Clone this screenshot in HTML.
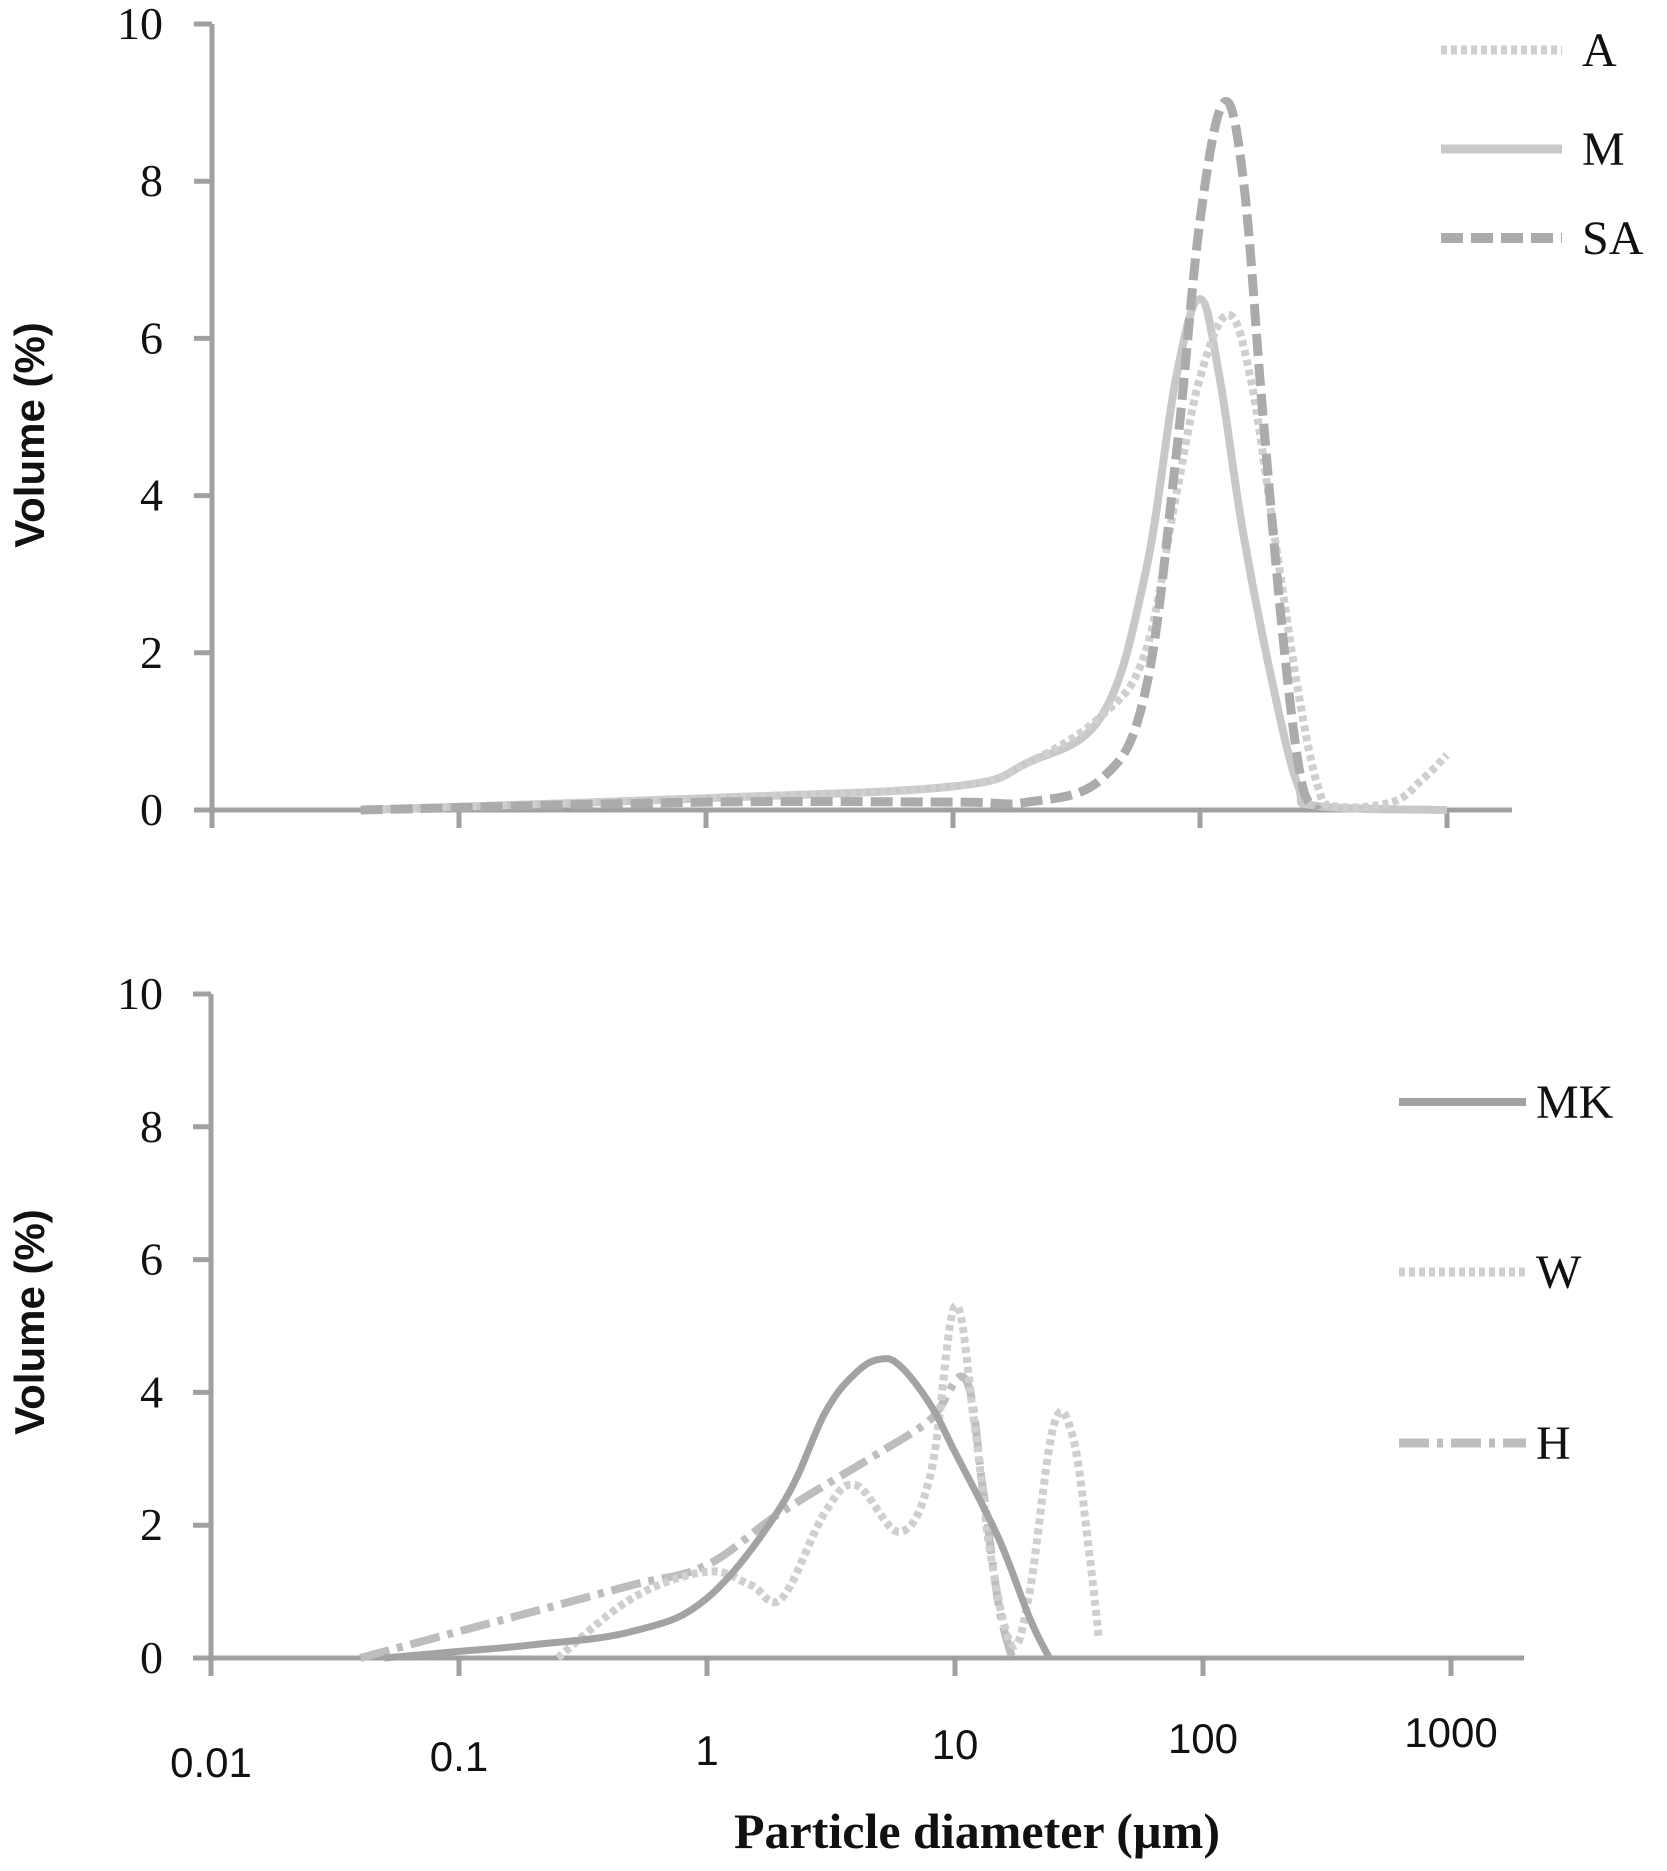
<!DOCTYPE html>
<html><head><meta charset="utf-8"><style>
html,body{margin:0;padding:0;background:#fff;}
svg{display:block;}
</style></head><body>
<svg id="chart" width="1667" height="1871" viewBox="0 0 1667 1871" xmlns="http://www.w3.org/2000/svg">
<g id="g"></g>
</svg>
<script>
// Top panel data
const topA_x = [0.04,1,10,20,40,60,80,100,130,160,200,250,300,350,600,800,1000];
const topA_y = [0,0.15,0.3,0.6,1.2,2,4,5.5,6.3,5.5,3.5,1.5,0.3,0.05,0.1,0.4,0.7];
const topM_x = [0.04,1,10,20,40,60,80,100,120,150,200,250,300,1000];
const topM_y = [0,0.15,0.3,0.6,1.2,3,5.5,6.5,5.5,3.5,1.5,0.3,0.05,0];
const topSA_x = [0.04,1,10,20,40,60,80,100,125,150,180,220,260,300];
const topSA_y = [0,0.1,0.1,0.1,0.4,1.5,4.5,7.5,9,8,5,2,0.3,0];
// Bottom panel data
const botMK_x = [0.05,0.1,0.2,0.5,1,2,3,4,5,6,8,10,15,20,24];
const botMK_y = [0,0.1,0.2,0.4,0.9,2.3,3.7,4.3,4.5,4.4,3.8,3.1,1.8,0.6,0];
const botW_x = [0.25,0.5,1,1.5,2,3,4,6,8,10,12,14,17,20,25,30,35,38];
const botW_y = [0,0.9,1.3,1.1,0.9,2.2,2.6,1.9,2.8,5.3,3.5,1.5,0.2,1,3.5,3.3,1.5,0.3];
const botH_x = [0.04,0.1,0.2,0.5,1,2,5,8,11,13,15,17];
const botH_y = [0,0.4,0.7,1.1,1.4,2.2,3.1,3.6,4.2,2.5,0.8,0];
const yTicks = [0,2,4,6,8,10];
const xTicks = [0.01,0.1,1,10,100,1000];
const xTickLabels = ["0.01","0.1","1","10","100","1000"];

const NS="http://www.w3.org/2000/svg";
const g=document.getElementById('g');
function el(t,a,txt){const e=document.createElementNS(NS,t);for(const k in a)e.setAttribute(k,a[k]);if(txt!==undefined)e.textContent=txt;g.appendChild(e);return e;}

const panels=[
 {name:'top',x0:212,x1:1447,xEnd:1512,y0:810,y10:24},
 {name:'bottom',x0:211,x1:1451,xEnd:1524,y0:1658,y10:994}
];
const axisC='#a0a0a0';
function sx(p,v){return p.x0+(Math.log10(v)+2)/5*(p.x1-p.x0);}
function sy(p,v){return p.y0-(v/10)*(p.y0-p.y10);}

panels.forEach((p,pi)=>{
  let e=el('line',{x1:p.x0,y1:p.y10,x2:p.x0,y2:p.y0,stroke:axisC,'stroke-width':5});
  
  
  e=el('line',{x1:p.x0-18,y1:p.y0,x2:p.xEnd,y2:p.y0,stroke:axisC,'stroke-width':5});
  
  
  yTicks.forEach(t=>{
    const y=sy(p,t);
    const l=el('line',{x1:p.x0-18,y1:y,x2:p.x0,y2:y,stroke:axisC,'stroke-width':5});
    
    
    const tx=el('text',{x:163,y:y+15,'text-anchor':'end','font-family':'Liberation Serif, serif','font-size':46,fill:'#111'},String(t));
    
    
  });
  xTicks.forEach((t,i)=>{
    const x=sx(p,t);
    const l=el('line',{x1:x,y1:p.y0,x2:x,y2:p.y0+18,stroke:axisC,'stroke-width':5});
    
    
    if(pi===1){
      const tx=el('text',{x:x,y:1777-i*6,'text-anchor':'middle','font-family':'Liberation Sans, sans-serif','font-size':42,fill:'#111'},xTickLabels[i]);
      
      
    }
  });
  const cy=pi===0?435:1322;
  const yt=el('text',{x:0,y:0,transform:`translate(44,${cy}) rotate(-90)`,'text-anchor':'middle','font-family':'Liberation Sans, sans-serif','font-weight':'bold','font-size':42,fill:'#111'},'Volume (%)');
  
  
});
const xt=el('text',{x:977,y:1848,'text-anchor':'middle','font-family':'Liberation Serif, serif','font-weight':'bold','font-size':50,fill:'#111'},'Particle diameter (µm)');



function series(p,xs,ys,style,name){
  const pts=xs.map((v,i)=>[sx(p,v),sy(p,ys[i])]);
  let d='M'+pts[0][0].toFixed(1)+','+pts[0][1].toFixed(1);
  for(let i=0;i<pts.length-1;i++){
    const p0=pts[Math.max(0,i-1)],p1=pts[i],p2=pts[i+1],p3=pts[Math.min(pts.length-1,i+2)];
    const t=0.18;
    const c1=[p1[0]+(p2[0]-p0[0])*t,Math.min(p.y0,p1[1]+(p2[1]-p0[1])*t)];
    const c2=[p2[0]-(p3[0]-p1[0])*t,Math.min(p.y0,p2[1]-(p3[1]-p1[1])*t)];
    d+=` C${c1[0].toFixed(1)},${c1[1].toFixed(1)} ${c2[0].toFixed(1)},${c2[1].toFixed(1)} ${p2[0].toFixed(1)},${p2[1].toFixed(1)}`;
  }
  const a={d:d,fill:'none',stroke:style.c,'stroke-width':style.w,'stroke-linejoin':'round'};
  if(style.dash)a['stroke-dasharray']=style.dash;
  const e=el('path',a);
  
  
}
const S={
 A:{c:'#cfcfcf',w:8,dash:'6,4'},
 M:{c:'#c8c8c8',w:8},
 SA:{c:'#ababab',w:9,dash:'22,8'},
 MK:{c:'#a3a3a3',w:7},
 W:{c:'#cfcfcf',w:8,dash:'6,4'},
 H:{c:'#bdbdbd',w:8,dash:'30,8,6,8'}
};
const P0=panels[0],P1=panels[1];
series(P0,topM_x,topM_y,S.M,'series-m');
series(P0,topA_x,topA_y,S.A,'series-a');
series(P0,topSA_x,topSA_y,S.SA,'series-sa');
series(P1,botH_x,botH_y,S.H,'series-h');
series(P1,botW_x,botW_y,S.W,'series-w');
series(P1,botMK_x,botMK_y,S.MK,'series-mk');

function legend(x1,x2,y,st,label,tx){
  const a={x1:x1,y1:y,x2:x2,y2:y,stroke:st.c,'stroke-width':st.w+1};
  if(st.dash)a['stroke-dasharray']=st.dash;
  const l=el('line',a);
  
  
  const t=el('text',{x:tx,y:y+16,'font-family':'Liberation Serif, serif','font-size':48,fill:'#111'},label);
  
  
}
legend(1441,1562,50,S.A,'A',1582);
legend(1441,1562,149,S.M,'M',1582);
legend(1441,1562,238,S.SA,'SA',1582);
legend(1399,1526,1102,S.MK,'MK',1536);
legend(1399,1526,1272,S.W,'W',1536);
legend(1399,1526,1443,S.H,'H',1536);
</script>
</body></html>
